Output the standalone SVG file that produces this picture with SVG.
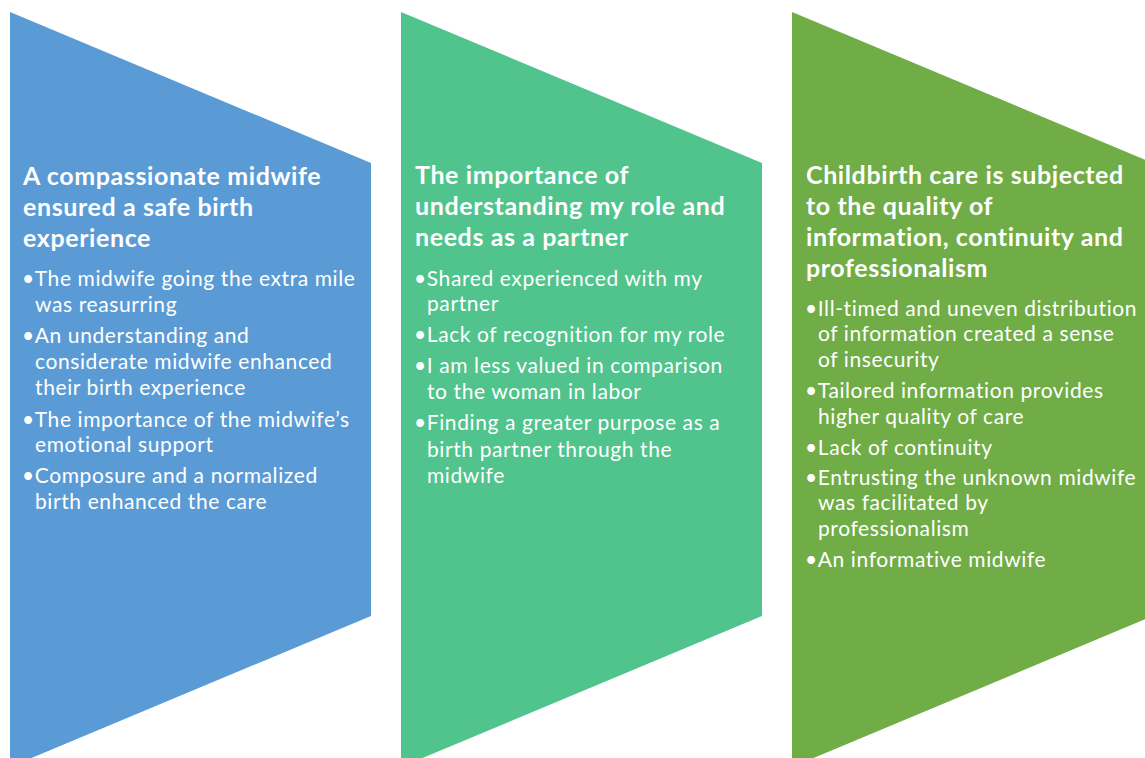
<svg xmlns="http://www.w3.org/2000/svg" width="1145" height="758" viewBox="0 0 1145 758">
  <style>
    .title { font-family: Lato, "Liberation Sans", sans-serif; font-weight: bold; font-size: 25px; letter-spacing: 0.6px; fill: #ffffff; }
    .item { font-family: Lato, "Liberation Sans", sans-serif; font-size: 21px; letter-spacing: 0.6px; fill: #ffffff; }
  </style>
  <rect width="1145" height="758" fill="#ffffff"/>

  <!-- Theme 1 -->
  <g id="theme-safe-birth">
    <polygon points="10,12 371,163 371,616 10,767" fill="#5B9BD5"/>
    <text class="title"><tspan x="23" y="185">A compassionate midwife</tspan><tspan x="23" y="216">ensured a safe birth</tspan><tspan x="23" y="247">experience</tspan></text>
    <text class="item"><tspan x="22" y="286">•The midwife going the extra mile</tspan><tspan x="35" y="312">was reasurring</tspan><tspan x="22" y="343">•An understanding and</tspan><tspan x="35" y="369">considerate midwife enhanced</tspan><tspan x="35" y="395">their birth experience</tspan><tspan x="22" y="427">•The importance of the midwife’s</tspan><tspan x="35" y="452">emotional support</tspan><tspan x="22" y="483">•Composure and a normalized</tspan><tspan x="35" y="509">birth enhanced the care</tspan></text>
  </g>

  <!-- Theme 2 -->
  <g id="theme-partner-role">
    <polygon points="401,12 762,163 762,616 401,767" fill="#50C48C"/>
    <text class="title"><tspan x="415" y="184">The importance of</tspan><tspan x="415" y="215">understanding my role and</tspan><tspan x="415" y="246">needs as a partner</tspan></text>
    <text class="item"><tspan x="414" y="286">•Shared experienced with my</tspan><tspan x="427" y="311">partner</tspan><tspan x="414" y="342">•Lack of recognition for my role</tspan><tspan x="414" y="373">•I am less valued in comparison</tspan><tspan x="427" y="399">to the woman in labor</tspan><tspan x="414" y="430">•Finding a greater purpose as a</tspan><tspan x="427" y="457">birth partner through the</tspan><tspan x="427" y="483">midwife</tspan></text>
  </g>

  <!-- Theme 3 -->
  <g id="theme-information-quality">
    <polygon points="792,12 1153,163 1153,616 792,767" fill="#70AD47"/>
    <text class="title"><tspan x="806" y="184">Childbirth care is subjected</tspan><tspan x="806" y="215">to the quality of</tspan><tspan x="806" y="246">information, continuity and</tspan><tspan x="806" y="277">professionalism</tspan></text>
    <text class="item"><tspan x="805" y="316">•Ill-timed and uneven distribution</tspan><tspan x="818" y="341">of information created a sense</tspan><tspan x="818" y="367">of insecurity</tspan><tspan x="805" y="398">•Tailored information provides</tspan><tspan x="818" y="424">higher quality of care</tspan><tspan x="805" y="455">•Lack of continuity</tspan><tspan x="805" y="485">•Entrusting the unknown midwife</tspan><tspan x="818" y="510">was facilitated by</tspan><tspan x="818" y="536">professionalism</tspan><tspan x="805" y="567">•An informative midwife</tspan></text>
  </g>
</svg>
